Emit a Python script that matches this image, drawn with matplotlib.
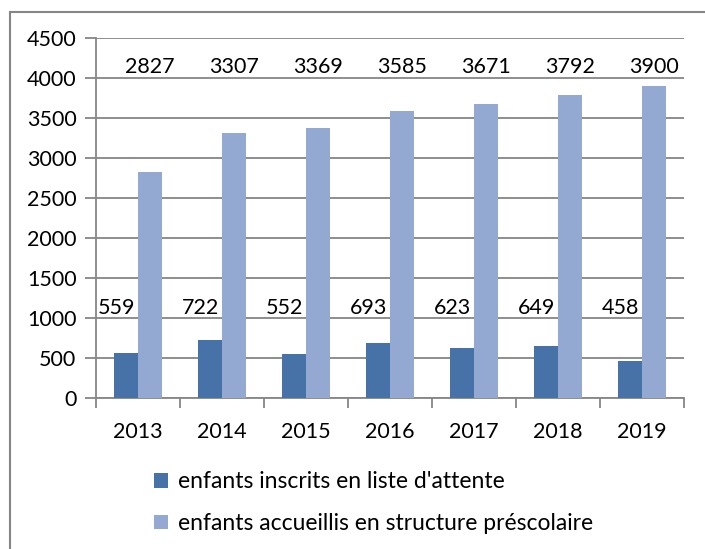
import matplotlib.pyplot as plt
import numpy as np
from matplotlib.lines import Line2D

plt.rcParams['font.family'] = ['Lato', 'DejaVu Sans']

years = ['2013', '2014', '2015', '2016', '2017', '2018', '2019']
attente = [559, 722, 552, 693, 623, 649, 458]
accueillis = [2827, 3307, 3369, 3585, 3671, 3792, 3900]
labels = ["enfants inscrits en liste d'attente",
          "enfants accueillis en structure préscolaire"]

dark = '#4672A8'
light = '#94A9D1'
grey = '#868686'

fig = plt.figure(figsize=(7.05, 5.49), dpi=100)
ax = fig.add_axes([0.136, 0.275, 0.834, 0.656])

x = np.arange(len(years))
w = 0.286
b1 = ax.bar(x - w / 2, attente, w, color=dark, label=labels[0], zorder=3)
b2 = ax.bar(x + w / 2, accueillis, w, color=light, label=labels[1], zorder=3)

# value labels sit at fixed heights, like the original
for i in range(len(years)):
    ax.text(x[i] - 0.25, 1120, str(attente[i]), ha='center', va='center', fontsize=15.5, zorder=4)
    ax.text(x[i] + w / 2, 4130, str(accueillis[i]), ha='center', va='center', fontsize=15.5, zorder=4)

ax.set_xlim(-0.5, len(years) - 0.5)
ax.set_ylim(0, 4500)
ax.set_yticks(np.arange(0, 4501, 500))
ax.yaxis.grid(True, color=grey, linewidth=1.3, zorder=0)
ax.set_axisbelow(True)

ax.set_xticks(x)
ax.set_xticklabels(years)
ax.set_xticks(np.arange(-0.5, len(years)), minor=True)
ax.tick_params(axis='x', which='major', length=0, pad=17, labelsize=15.5)
ax.tick_params(axis='x', which='minor', length=7, width=1.3, color=grey)
ax.tick_params(axis='y', length=8, width=1.3, color=grey, pad=6, labelsize=15.5)

for s in ['top', 'right']:
    ax.spines[s].set_visible(False)
for s in ['left', 'bottom']:
    ax.spines[s].set_color(grey)
    ax.spines[s].set_linewidth(1.3)

fig.legend(handles=[b1, b2], labels=labels, loc='upper left',
           bbox_to_anchor=(0.206, 0.158), frameon=False, fontsize=16.5,
           handlelength=0.6, handleheight=0.6, handletextpad=0.45,
           labelspacing=0.9, borderaxespad=0)

# outer chart border (cut off at right and bottom)
fig.add_artist(Line2D([10 / 705, 1], [1 - 12 / 549, 1 - 12 / 549],
                      transform=fig.transFigure, color=grey, linewidth=1.5))
fig.add_artist(Line2D([10 / 705, 10 / 705], [0, 1 - 12 / 549],
                      transform=fig.transFigure, color=grey, linewidth=1.5))

fig.savefig('out.png', dpi=100)
